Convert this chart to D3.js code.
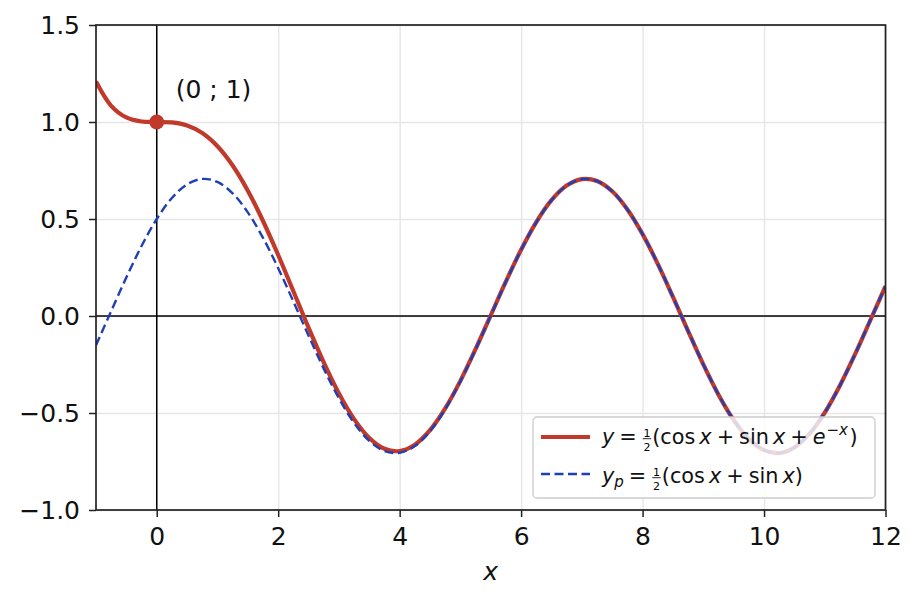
<!DOCTYPE html>
<html>
<head>
<meta charset="utf-8">
<script src="https://cdn.jsdelivr.net/npm/d3@7"></script>
<style>
  body { margin: 0; background: #fff; }
  svg { display: block; }
  text { font-family: "DejaVu Sans", sans-serif; }
</style>
</head>
<body>
<svg id="chart" width="918" height="602"></svg>
<script>
// sample points (x step 0.25)
const xVals = [-1, -0.75, -0.5, -0.25, 0, 0.25, 0.5, 0.75, 1, 1.25, 1.5, 1.75, 2, 2.25, 2.5, 2.75,
  3, 3.25, 3.5, 3.75, 4, 4.25, 4.5, 4.75, 5, 5.25, 5.5, 5.75, 6, 6.25, 6.5, 6.75, 7, 7.25, 7.5, 7.75,
  8, 8.25, 8.5, 8.75, 9, 9.25, 9.5, 9.75, 10, 10.25, 10.5, 10.75, 11, 11.25, 11.5, 11.75, 12];

const ySolution = [1.2085, 1.0835, 1.0235, 1.0027, 1.0000, 0.9978, 0.9817, 0.9429, 0.8748,
  0.7755, 0.6457, 0.4898, 0.3143, 0.1277, -0.0603, -0.2393, -0.3995,
  -0.5317, -0.6286, -0.6842, -0.6961, -0.6633, -0.5885, -0.4765, -0.3343,
  -0.1708, 0.0036, 0.1780, 0.3416, 0.4841, 0.5968, 0.6721, 0.7059,
  0.6959, 0.6427, 0.5494, 0.4221, 0.2685, 0.0983, -0.0780, -0.2494,
  -0.4054, -0.5361, -0.6335, -0.6915, -0.7066, -0.6776, -0.6066, -0.4978,
  -0.3581, -0.1961, -0.0219, 0.1536];

const yParticular = [-0.1506, 0.0250, 0.1991, 0.3607, 0.5000, 0.6084, 0.6784, 0.7067, 0.6909,
  0.6322, 0.5341, 0.4029, 0.2466, 0.0750, -0.1013, -0.2713, -0.4244,
  -0.5511, -0.6437, -0.6960, -0.7053, -0.6704, -0.5941, -0.4808, -0.3377,
  -0.1734, 0.0016, 0.1764, 0.3404, 0.4831, 0.5960, 0.6715, 0.7054,
  0.6955, 0.6424, 0.5492, 0.4219, 0.2684, 0.0982, -0.0781, -0.2495,
  -0.4055, -0.5361, -0.6336, -0.6915, -0.7066, -0.6776, -0.6066, -0.4978,
  -0.3581, -0.1961, -0.0219, 0.1536];

const xTicks = [0, 2, 4, 6, 8, 10, 12];
const yTicks = [-1.0, -0.5, 0.0, 0.5, 1.0, 1.5];
const initialPoint = [0, 1];

const red = "#c0392b";
const blue = "#1f3fb4";

const margin = {top: 25, right: 32.5, bottom: 92, left: 96};
const width = 918 - margin.left - margin.right;
const height = 602 - margin.top - margin.bottom;

const svg = d3.select("#chart");
const g = svg.append("g")
  .attr("transform", "translate(" + margin.left + "," + margin.top + ")");

const x = d3.scaleLinear().domain([-1, 12]).range([0, width]);
const y = d3.scaleLinear().domain([-1, 1.5]).range([height, 0]);

svg.append("defs").append("clipPath").attr("id", "clip")
  .append("rect").attr("width", width).attr("height", height);

// grid
g.append("g")
  .attr("transform", "translate(0," + height + ")")
  .call(d3.axisBottom(x).tickValues(xTicks).tickSize(-height).tickFormat(""))
  .call(a => a.select(".domain").remove())
  .call(a => a.selectAll("line").attr("stroke", "#e6e6e6").attr("stroke-width", 1.4));
g.append("g")
  .call(d3.axisLeft(y).tickValues(yTicks).tickSize(-width).tickFormat(""))
  .call(a => a.select(".domain").remove())
  .call(a => a.selectAll("line").attr("stroke", "#e6e6e6").attr("stroke-width", 1.4));

// zero lines
g.append("line")
  .attr("x1", 0).attr("x2", width).attr("y1", y(0)).attr("y2", y(0))
  .attr("stroke", "#000").attr("stroke-width", 1.5);
g.append("line")
  .attr("x1", x(0)).attr("x2", x(0)).attr("y1", 0).attr("y2", height)
  .attr("stroke", "#000").attr("stroke-width", 1.5);

const plot = g.append("g").attr("clip-path", "url(#clip)");

const line = (ys) => d3.line()
  .x((d, i) => x(xVals[i]))
  .y(d => y(d))
  .curve(d3.curveCatmullRom.alpha(0.5))(ys);

plot.append("path")
  .attr("d", line(ySolution))
  .attr("fill", "none")
  .attr("stroke", red)
  .attr("stroke-width", 4.2);

plot.append("path")
  .attr("d", line(yParticular))
  .attr("fill", "none")
  .attr("stroke", blue)
  .attr("stroke-width", 2.4)
  .attr("stroke-dasharray", "9,4.5");

g.append("circle")
  .attr("cx", x(initialPoint[0]))
  .attr("cy", y(initialPoint[1]))
  .attr("r", 7.5)
  .attr("fill", red);

g.append("text")
  .attr("x", x(initialPoint[0]) + 19)
  .attr("y", y(initialPoint[1]) - 24)
  .attr("font-size", 25)
  .attr("fill", "#111")
  .text("(0 ; 1)");

// axes
const xAxis = g.append("g")
  .attr("transform", "translate(0," + height + ")")
  .call(d3.axisBottom(x).tickValues(xTicks).tickSize(7).tickPadding(10).tickFormat(d3.format("d")));
const yAxis = g.append("g")
  .call(d3.axisLeft(y).tickValues(yTicks).tickSize(7).tickPadding(9).tickFormat(d3.format(".1f")));
[xAxis, yAxis].forEach(a => {
  a.select(".domain").remove();
  a.attr("font-family", "DejaVu Sans").attr("font-size", 25);
  a.selectAll("line").attr("stroke", "#222").attr("stroke-width", 1.5);
  a.selectAll("text").attr("fill", "#111");
});

g.append("text")
  .attr("x", width / 2)
  .attr("y", height + 70)
  .attr("text-anchor", "middle")
  .attr("font-size", 25)
  .attr("font-style", "italic")
  .attr("fill", "#111")
  .text("x");

// legend
const legend = g.append("g").attr("transform", "translate(" + (533 - margin.left) + "," + (417 - margin.top) + ")");
legend.append("rect")
  .attr("width", 342).attr("height", 81).attr("rx", 4)
  .attr("fill", "rgba(255,255,255,0.8)")
  .attr("stroke", "#cccccc").attr("stroke-width", 1.3);

function mathLabel(sel, x0, base, parts) {
  let cx = x0;
  parts.forEach(p => {
    if (p.gap) { cx += p.gap; return; }
    if (p.frac) {
      // small stacked 1/2
      const n = sel.append("text").attr("font-size", 11).attr("text-anchor", "middle").text("1");
      const d = sel.append("text").attr("font-size", 11).attr("text-anchor", "middle").text("2");
      const w = Math.max(n.node().getComputedTextLength(), d.node().getComputedTextLength()) + 1.5;
      n.attr("x", cx + 1 + w / 2).attr("y", base - 7.5);
      d.attr("x", cx + 1 + w / 2).attr("y", base + 6.5);
      sel.append("line").attr("x1", cx + 1).attr("x2", cx + 1 + w)
        .attr("y1", base - 5.3).attr("y2", base - 5.3)
        .attr("stroke", "#111").attr("stroke-width", 0.9);
      cx += w + 2;
      return;
    }
    const t = sel.append("text")
      .attr("x", cx)
      .attr("y", base + (p.dy || 0))
      .attr("font-size", p.size || 20.8)
      .attr("font-style", p.i ? "italic" : "normal")
      .attr("fill", "#111")
      .text(p.t);
    cx += t.node().getComputedTextLength();
  });
}

legend.append("line")
  .attr("x1", 8).attr("x2", 57).attr("y1", 20).attr("y2", 20)
  .attr("stroke", red).attr("stroke-width", 4.2);
legend.append("line")
  .attr("x1", 8).attr("x2", 57).attr("y1", 57).attr("y2", 57)
  .attr("stroke", blue).attr("stroke-width", 2.4).attr("stroke-dasharray", "9,4.5");

mathLabel(legend, 69, 27, [
  {t: "y", i: true}, {gap: 5}, {t: "="}, {gap: 5}, {frac: true}, {t: "(cos"}, {gap: 4},
  {t: "x", i: true}, {gap: 5}, {t: "+"}, {gap: 5}, {t: "sin"}, {gap: 4}, {t: "x", i: true},
  {gap: 5}, {t: "+"}, {gap: 5}, {t: "e", i: true}, {gap: 1}, {t: "\u2212x", i: true, size: 15, dy: -9}, {gap: 1.5}, {t: ")"}
]);
mathLabel(legend, 69, 66, [
  {t: "y", i: true}, {t: "p", i: true, size: 15, dy: 4}, {gap: 5}, {t: "="}, {gap: 5}, {frac: true},
  {t: "(cos"}, {gap: 4}, {t: "x", i: true}, {gap: 5}, {t: "+"}, {gap: 5}, {t: "sin"}, {gap: 4},
  {t: "x", i: true}, {t: ")"}
]);

// frame
g.append("rect")
  .attr("width", width).attr("height", height)
  .attr("fill", "none").attr("stroke", "#222").attr("stroke-width", 1.7);
</script>
</body>
</html>
